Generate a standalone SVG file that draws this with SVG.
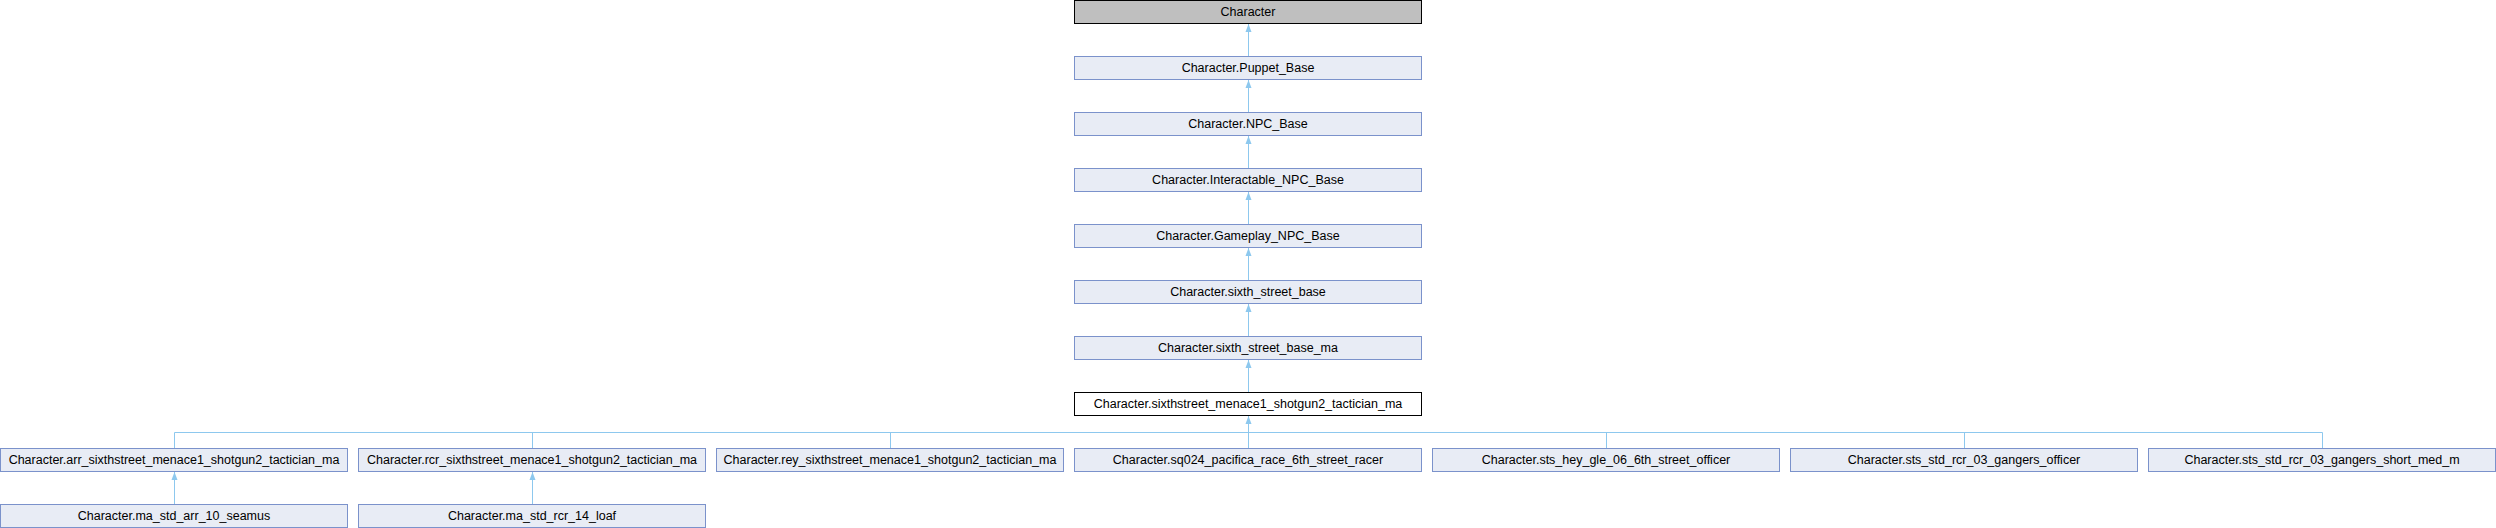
<svg xmlns="http://www.w3.org/2000/svg" width="2496" height="528" viewBox="0 0 2496 528">
<defs>
<style>
.n rect{fill:#E8ECF5;stroke:#7B92CB;stroke-width:1}
.n.root rect{fill:#BFBFBF;stroke:#000}
.n.cur rect{fill:#FFFFFF;stroke:#000}
text{font-family:"Liberation Sans",Arial,Helvetica,sans-serif;font-size:12.5px;fill:#000;text-anchor:middle}
.e{stroke:#8DC8EE;stroke-width:1;fill:none}
</style>
<marker id="ah" viewBox="0 0 8 8" refX="8" refY="4" markerWidth="8" markerHeight="8" markerUnits="userSpaceOnUse" orient="auto">
<path d="M0,1 L8,4 L0,7 Z" fill="#8DC8EE"/>
</marker>
</defs>
<rect width="2496" height="528" fill="#fff"/>
<g id="edges">
<path class="e" d="M1248.5,56.5 V24" marker-end="url(#ah)"/>
<path class="e" d="M1248.5,112.5 V80" marker-end="url(#ah)"/>
<path class="e" d="M1248.5,168.5 V136" marker-end="url(#ah)"/>
<path class="e" d="M1248.5,224.5 V192" marker-end="url(#ah)"/>
<path class="e" d="M1248.5,280.5 V248" marker-end="url(#ah)"/>
<path class="e" d="M1248.5,336.5 V304" marker-end="url(#ah)"/>
<path class="e" d="M1248.5,392.5 V360" marker-end="url(#ah)"/>
<path class="e" d="M1248.5,448.5 V416" marker-end="url(#ah)"/>
<path class="e" d="M174.5,448.5 V432.5 H2322.5 V448.5"/>
<path class="e" d="M532.5,432.5 V448.5 M890.5,432.5 V448.5 M1606.5,432.5 V448.5 M1964.5,432.5 V448.5"/>
<path class="e" d="M174.5,504.5 V472" marker-end="url(#ah)"/>
<path class="e" d="M532.5,504.5 V472" marker-end="url(#ah)"/>
</g>
<g id="n0" class="n root"><rect x="1074.5" y="0.5" width="347" height="23"/><text x="1248" y="15.5">Character</text></g>
<g id="n1" class="n"><rect x="1074.5" y="56.5" width="347" height="23"/><text x="1248" y="71.5">Character.Puppet_Base</text></g>
<g id="n2" class="n"><rect x="1074.5" y="112.5" width="347" height="23"/><text x="1248" y="127.5">Character.NPC_Base</text></g>
<g id="n3" class="n"><rect x="1074.5" y="168.5" width="347" height="23"/><text x="1248" y="183.5">Character.Interactable_NPC_Base</text></g>
<g id="n4" class="n"><rect x="1074.5" y="224.5" width="347" height="23"/><text x="1248" y="239.5">Character.Gameplay_NPC_Base</text></g>
<g id="n5" class="n"><rect x="1074.5" y="280.5" width="347" height="23"/><text x="1248" y="295.5">Character.sixth_street_base</text></g>
<g id="n6" class="n"><rect x="1074.5" y="336.5" width="347" height="23"/><text x="1248" y="351.5">Character.sixth_street_base_ma</text></g>
<g id="n7" class="n cur"><rect x="1074.5" y="392.5" width="347" height="23"/><text x="1248" y="407.5">Character.sixthstreet_menace1_shotgun2_tactician_ma</text></g>
<g id="n8" class="n"><rect x="0.5" y="448.5" width="347" height="23"/><text x="174" y="463.5">Character.arr_sixthstreet_menace1_shotgun2_tactician_ma</text></g>
<g id="n9" class="n"><rect x="358.5" y="448.5" width="347" height="23"/><text x="532" y="463.5">Character.rcr_sixthstreet_menace1_shotgun2_tactician_ma</text></g>
<g id="n10" class="n"><rect x="716.5" y="448.5" width="347" height="23"/><text x="890" y="463.5">Character.rey_sixthstreet_menace1_shotgun2_tactician_ma</text></g>
<g id="n11" class="n"><rect x="1074.5" y="448.5" width="347" height="23"/><text x="1248" y="463.5">Character.sq024_pacifica_race_6th_street_racer</text></g>
<g id="n12" class="n"><rect x="1432.5" y="448.5" width="347" height="23"/><text x="1606" y="463.5">Character.sts_hey_gle_06_6th_street_officer</text></g>
<g id="n13" class="n"><rect x="1790.5" y="448.5" width="347" height="23"/><text x="1964" y="463.5">Character.sts_std_rcr_03_gangers_officer</text></g>
<g id="n14" class="n"><rect x="2148.5" y="448.5" width="347" height="23"/><text x="2322" y="463.5">Character.sts_std_rcr_03_gangers_short_med_m</text></g>
<g id="n15" class="n"><rect x="0.5" y="504.5" width="347" height="23"/><text x="174" y="519.5">Character.ma_std_arr_10_seamus</text></g>
<g id="n16" class="n"><rect x="358.5" y="504.5" width="347" height="23"/><text x="532" y="519.5">Character.ma_std_rcr_14_loaf</text></g>
</svg>
